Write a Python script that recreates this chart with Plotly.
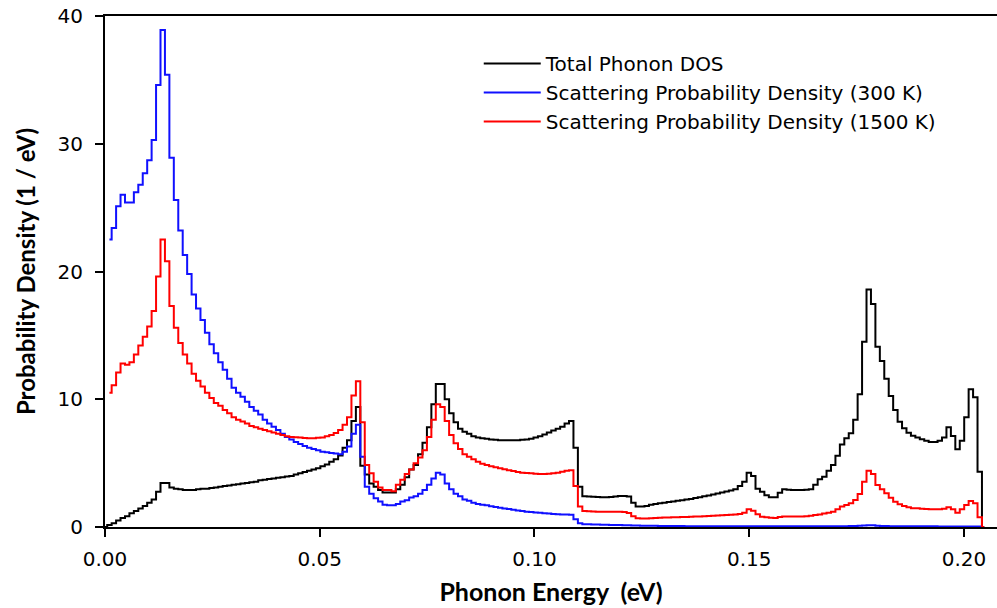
import plotly.graph_objects as go

# Energy grid: bins of 0.25 THz expressed in eV
bin_thz = 0.25
thz_to_ev = 4.135667e-3
n_bins = 199
energy_ev = [k * bin_thz * thz_to_ev for k in range(n_bins)]

# Total phonon DOS (k = 0 .. 198)
dos_total = [
    0, 0.15, 0.3, 0.5, 0.7, 0.85, 1.07, 1.25, 1.45, 1.65,
    1.9, 2.15, 2.75, 3.45, 3.45, 3.1, 3.0, 2.95, 2.9, 2.9,
    2.9, 2.95, 3.0, 3.0, 3.05, 3.1, 3.15, 3.2, 3.25, 3.3,
    3.35, 3.4, 3.45, 3.5, 3.55, 3.65, 3.7, 3.75, 3.8, 3.85,
    3.9, 3.95, 4.0, 4.1, 4.2, 4.3, 4.4, 4.5, 4.6, 4.75,
    4.9, 5.1, 5.3, 5.6, 6.2, 6.8, 8.3, 9.4, 4.8, 4.1,
    3.4, 3.15, 2.9, 2.7, 2.7, 2.7, 2.95, 3.3, 3.9, 4.5,
    4.85, 5.7, 6.6, 7.8, 9.6, 11.2, 11.2, 10.0, 8.9, 8.2,
    7.7, 7.45, 7.3, 7.1, 7.0, 6.95, 6.9, 6.85, 6.82, 6.8,
    6.8, 6.8, 6.8, 6.8, 6.82, 6.85, 6.9, 7.0, 7.1, 7.25,
    7.4, 7.55, 7.7, 7.85, 8.1, 8.3, 6.2, 3.15, 2.4, 2.38,
    2.36, 2.34, 2.33, 2.33, 2.35, 2.38, 2.42, 2.42, 2.38, 1.9,
    1.6, 1.6, 1.65, 1.75, 1.8, 1.85, 1.9, 1.95, 2.0, 2.05,
    2.1, 2.15, 2.2, 2.27, 2.33, 2.4, 2.47, 2.55, 2.62, 2.7,
    2.78, 2.86, 2.95, 3.2, 3.55, 4.25, 4.0, 3.0, 2.75, 2.48,
    2.32, 2.32, 2.69, 2.95, 2.92, 2.9, 2.9, 2.9, 2.92, 2.95,
    3.3, 3.73, 3.94, 4.4, 4.85, 5.58, 6.45, 6.94, 7.33, 8.4,
    10.4, 14.5, 18.6, 17.45, 14.1, 13.0, 11.6, 10.25, 9.16, 8.24,
    7.73, 7.38, 7.15, 7.0, 6.86, 6.76, 6.65, 6.65, 6.76, 7.0,
    7.8, 7.12, 6.08, 6.76, 8.59, 10.78, 10.15, 4.33, 0,
]

# Scattering probability density at 300 K (k = 1 .. 198)
scat_300k = [
    22.5, 23.4, 25.1, 26.0, 25.4, 25.4, 26.2, 26.8, 27.7,
    28.7, 30.3, 34.6, 38.9, 35.4, 28.9, 25.6, 23.2, 21.3, 19.8,
    18.2, 17.1, 16.2, 15.2, 14.3, 13.6, 12.9, 12.3, 11.6, 10.9,
    10.5, 10.2, 9.8, 9.4, 9.1, 8.8, 8.4, 8.1, 7.85, 7.6,
    7.3, 7.05, 6.85, 6.65, 6.5, 6.35, 6.2, 6.1, 6.0, 5.9,
    5.85, 5.8, 5.75, 5.7, 5.9, 6.3, 7.3, 8.0, 5.5, 3.15,
    2.6, 2.25, 2.0, 1.75, 1.7, 1.7, 1.8, 2.0, 2.1, 2.3,
    2.4, 2.6, 2.9, 3.3, 3.8, 4.25, 4.1, 3.4, 2.95, 2.6,
    2.4, 2.15, 2.05, 1.9, 1.8, 1.75, 1.7, 1.62, 1.56, 1.5,
    1.45, 1.4, 1.35, 1.3, 1.25, 1.2, 1.17, 1.14, 1.11, 1.08,
    1.05, 1.02, 1.0, 0.98, 0.97, 0.95, 0.6, 0.3, 0.22, 0.21,
    0.2, 0.19, 0.18, 0.17, 0.16, 0.15, 0.15, 0.14, 0.13, 0.12,
    0.11, 0.1, 0.1, 0.09, 0.09, 0.08, 0.08, 0.08, 0.07, 0.07,
    0.07, 0.06, 0.06, 0.06, 0.06, 0.06, 0.06, 0.06, 0.06, 0.06,
    0.06, 0.05, 0.05, 0.05, 0.05, 0.05, 0.05, 0.05, 0.05, 0.05,
    0.05, 0.05, 0.05, 0.05, 0.05, 0.05, 0.05, 0.05, 0.05, 0.05,
    0.05, 0.06, 0.06, 0.06, 0.06, 0.06, 0.06, 0.06, 0.07, 0.08,
    0.1, 0.12, 0.14, 0.13, 0.1, 0.08, 0.07, 0.06, 0.05, 0.05,
    0.05, 0.05, 0.05, 0.05, 0.05, 0.05, 0.05, 0.05, 0.04, 0.04,
    0.04, 0.04, 0.04, 0.04, 0.04, 0.04, 0.04, 0.04, 0,
]

# Scattering probability density at 1500 K (k = 1 .. 198)
scat_1500k = [
    10.5, 11.1, 12.1, 12.8, 12.7, 12.9, 13.5, 14.2, 14.9,
    15.7, 16.9, 19.6, 22.5, 20.8, 17.3, 15.6, 14.4, 13.5, 12.8,
    12.0, 11.45, 11.0, 10.5, 10.1, 9.7, 9.5, 9.15, 8.9, 8.6,
    8.4, 8.25, 8.1, 7.9, 7.8, 7.7, 7.6, 7.5, 7.4, 7.3,
    7.2, 7.1, 7.05, 7.02, 7.0, 6.97, 6.95, 6.95, 6.98, 7.0,
    7.1, 7.2, 7.35, 7.6, 8.0, 8.6, 10.3, 11.4, 8.2, 4.85,
    4.2, 3.55, 3.1, 2.9, 2.9, 2.8, 3.3, 3.7, 4.15, 4.5,
    5.0, 5.45, 6.0, 7.05, 8.4, 9.6, 9.4, 8.3, 7.2, 6.55,
    6.1, 5.7, 5.5, 5.3, 5.1, 4.95, 4.85, 4.75, 4.68, 4.6,
    4.52, 4.45, 4.38, 4.3, 4.25, 4.22, 4.2, 4.17, 4.15, 4.15,
    4.17, 4.2, 4.25, 4.32, 4.4, 4.45, 3.2, 1.6, 1.25, 1.23,
    1.22, 1.2, 1.2, 1.2, 1.2, 1.2, 1.2, 1.18, 1.1, 0.85,
    0.68, 0.66, 0.66, 0.68, 0.7, 0.72, 0.74, 0.75, 0.76, 0.77,
    0.78, 0.79, 0.8, 0.82, 0.83, 0.85, 0.86, 0.88, 0.9, 0.92,
    0.94, 0.96, 0.98, 1.02, 1.12, 1.38, 1.28, 1.0, 0.8, 0.76,
    0.72, 0.7, 0.78, 0.82, 0.82, 0.82, 0.82, 0.82, 0.84, 0.88,
    0.94, 0.97, 1.05, 1.12, 1.2, 1.38, 1.6, 1.72, 1.85, 2.11,
    2.58, 3.55, 4.41, 4.15, 3.29, 2.95, 2.64, 2.29, 1.98, 1.78,
    1.64, 1.54, 1.46, 1.46, 1.42, 1.4, 1.38, 1.38, 1.38, 1.42,
    1.54, 1.38, 1.12, 1.38, 1.72, 2.03, 1.85, 0.76, 0,
]

series_names = [
    "Total Phonon DOS",
    "Scattering Probability Density (300 K)",
    "Scattering Probability Density (1500 K)",
]
series_colors = ["#000000", "#1010ff", "#ff0000"]

x_tick_vals = [0.0, 0.05, 0.10, 0.15, 0.20]
x_tick_text = ["0.00", "0.05", "0.10", "0.15", "0.20"]
y_tick_vals = [0, 10, 20, 30, 40]

fig = go.Figure()
fig.add_trace(go.Scatter(x=energy_ev, y=dos_total, mode="lines", name=series_names[0],
                         line=dict(color=series_colors[0], width=2, shape="hvh")))
fig.add_trace(go.Scatter(x=energy_ev[1:], y=scat_300k, mode="lines", name=series_names[1],
                         line=dict(color=series_colors[1], width=2, shape="hvh")))
fig.add_trace(go.Scatter(x=energy_ev[1:], y=scat_1500k, mode="lines", name=series_names[2],
                         line=dict(color=series_colors[2], width=2, shape="hvh")))

tick_font = dict(family="DejaVu Sans", size=20, color="black")
title_font = dict(family="Lato", size=24, color="black", weight="bold")

fig.update_layout(
    width=997, height=608, autosize=False,
    margin=dict(l=105, r=0, t=16, b=81, pad=0),
    paper_bgcolor="white", plot_bgcolor="white",
    showlegend=True,
    legend=dict(x=0.419, y=0.945, xanchor="left", yanchor="top",
                font=dict(family="DejaVu Sans", size=20, color="black"),
                itemwidth=57,
                bgcolor="rgba(0,0,0,0)", borderwidth=0, tracegroupgap=0),
    xaxis=dict(range=[0, 0.2077], tickvals=x_tick_vals, ticktext=x_tick_text,
               showline=True, linecolor="black", linewidth=2, mirror=True,
               ticks="outside", ticklen=8, tickwidth=2, tickcolor="black",
               showgrid=False, zeroline=False, tickfont=tick_font,
               ticklabelstandoff=5,
               title=dict(text="Phonon Energy \u00a0(eV)", font=dict(family="Lato", size=25, color="black", weight="bold"), standoff=13)),
    yaxis=dict(range=[0, 40], tickvals=y_tick_vals,
               showline=True, linecolor="black", linewidth=2, mirror=False,
               ticks="outside", ticklen=8, tickwidth=2, tickcolor="black",
               showgrid=False, zeroline=False, tickfont=tick_font,
               ticklabelstandoff=8,
               title=dict(text="Probability Density (1 / eV)", font=title_font, standoff=15)),
)

fig.write_html("out.html", config={"displayModeBar": False},
               post_script="document.body.style.margin='0';document.body.style.overflow='hidden';")
